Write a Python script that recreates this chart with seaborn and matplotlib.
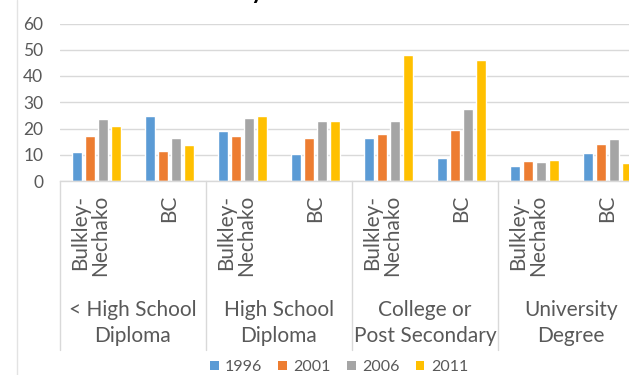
import matplotlib
matplotlib.use("Agg")
import matplotlib.pyplot as plt
import seaborn as sns
import pandas as pd
from matplotlib.lines import Line2D
from matplotlib.patches import Patch
from matplotlib.transforms import blended_transform_factory

# ---- data ----
groups = ["< High School\nDiploma", "High School\nDiploma",
          "College or\nPost Secondary", "University\nDegree"]
places = ["Bulkley-\nNechako", "BC"]
years = ["1996", "2001", "2006", "2011"]
v1996 = [11.2, 24.9, 19.0, 10.4, 16.4, 8.6, 5.7, 10.8]
v2001 = [17.1, 11.5, 17.1, 16.4, 17.9, 19.4, 7.6, 14.2]
v2006 = [23.7, 16.4, 24.1, 23.0, 23.0, 27.5, 7.1, 16.1]
v2011 = [20.8, 13.7, 24.9, 23.0, 48.1, 46.2, 8.0, 6.9]
colors = ["#5B9BD5", "#ED7D31", "#A5A5A5", "#FFC000"]
title_text = "Share by Education Level"

slots = [f"{g}|{p}" for g in groups for p in places]
rows = []
for yr, vals in zip(years, [v1996, v2001, v2006, v2011]):
    for s, v in zip(slots, vals):
        rows.append({"slot": s, "year": yr, "value": v})
df = pd.DataFrame(rows)

sns.set_theme(style="white")
plt.rcParams["font.family"] = ["Lato", "DejaVu Sans"]

W, H = 629, 375
fig = plt.figure(figsize=(W / 100, H / 100), dpi=100)
ax_left, ax_right, ax_top, ax_bot = 60, 644, 23.5, 181
ax = fig.add_axes([ax_left / W, 1 - ax_bot / H, (ax_right - ax_left) / W, (ax_bot - ax_top) / H])

sns.barplot(data=df, x="slot", y="value", hue="year", order=slots, hue_order=years,
            palette=colors, width=0.72, gap=0.22, ax=ax, legend=False, saturation=1)

ax.set_ylim(0, 60)
ax.set_xlim(-0.5, len(slots) - 0.5)
ax.set_yticks(range(0, 61, 10))
ax.yaxis.grid(True, color="#D9D9D9", lw=1)
ax.set_axisbelow(True)
ax.set_xticks([])
ax.set_xlabel("")
ax.set_ylabel("")
ax.tick_params(axis="y", length=0, pad=12, labelsize=12.5, labelcolor="#595959")
for s in ["top", "right", "left"]:
    ax.spines[s].set_visible(False)
ax.spines["bottom"].set_color("#D9D9D9")
ax.spines["bottom"].set_linewidth(1)

tr = blended_transform_factory(ax.transData, fig.transFigure)
# place labels (rotated)
for i, s in enumerate(slots):
    p = s.split("|")[1]
    dx = -0.09 if "\n" in p else 0.0
    ax.text(i + dx, 1 - 195 / H, p, transform=tr, rotation=90, ha="center", va="top",
            fontsize=15, color="#595959", multialignment="right", linespacing=1.0,
            clip_on=False)
# group labels
for gi, g in enumerate(groups):
    ax.text(2 * gi + 0.5, 1 - 300 / H, g, transform=tr, ha="center", va="top",
            fontsize=15, color="#595959", linespacing=1.35, clip_on=False)
# separators
for xb in [-0.5, 1.5, 3.5, 5.5, 7.5]:
    ax.add_line(Line2D([xb, xb], [1 - ax_bot / H, 1 - 350 / H], transform=tr,
                       color="#D9D9D9", lw=1, clip_on=False))

# chart-area left border
fig.add_artist(Line2D([16.5 / W, 16.5 / W], [0, 1], transform=fig.transFigure,
                      color="#E3E3E3", lw=1))

# title (mostly above the visible area); place so the "y" of "by" sits near x=257px
renderer = fig.canvas.get_renderer()
probe = fig.text(0, 0, title_text[:title_text.index("y")], fontsize=17, fontweight="bold")
pw = probe.get_window_extent(renderer).width
probe.remove()
fig.text((257 - 6 - pw) / W, 1 + 1.0 / H, title_text, ha="left", va="baseline",
         fontsize=17, fontweight="bold", color="black")

handles = [Patch(facecolor=c, edgecolor="none", label=y) for c, y in zip(colors, years)]
fig.legend(handles=handles, loc="center", bbox_to_anchor=(339 / W, 1 - 367 / H),
           ncol=4, frameon=False, fontsize=11.5, handlelength=0.55, handleheight=0.55,
           handletextpad=0.4, columnspacing=1.0, labelcolor="#595959")

fig.savefig("out.png", dpi=100)
